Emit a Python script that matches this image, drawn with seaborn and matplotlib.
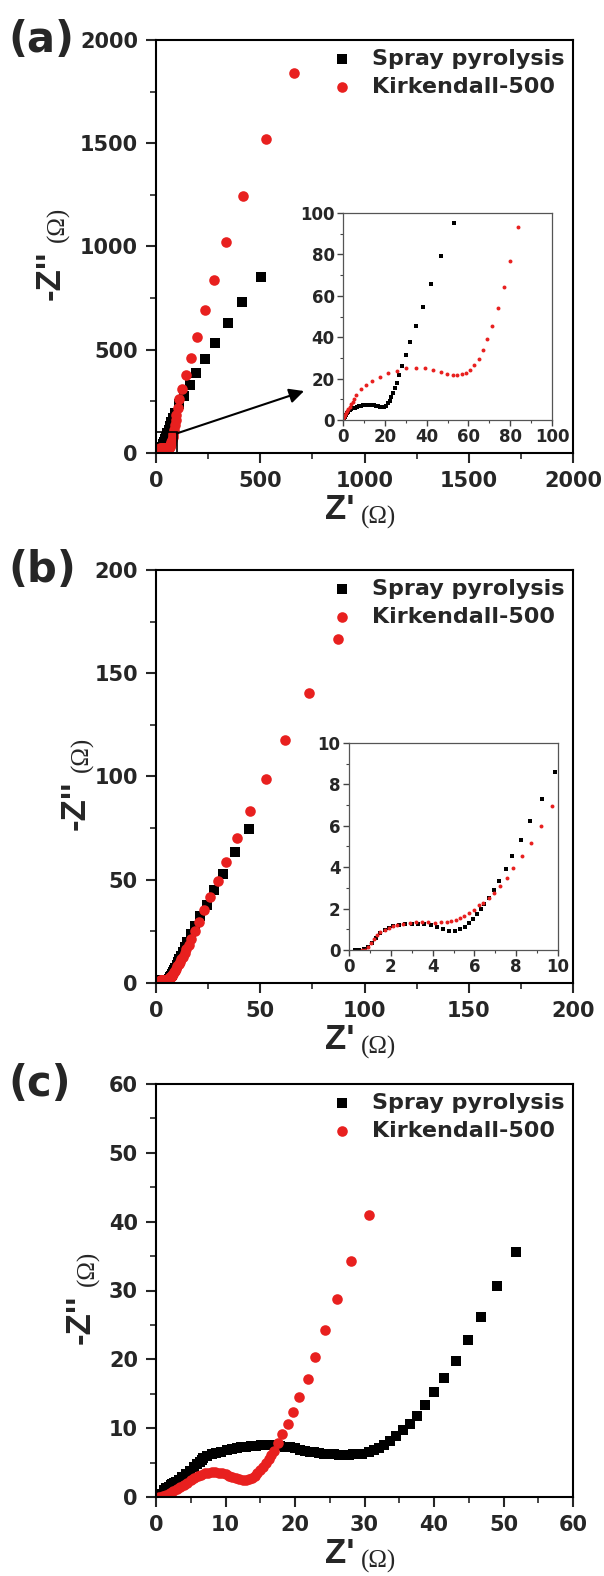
import matplotlib
matplotlib.use("Agg")
import matplotlib.pyplot as plt
from matplotlib.ticker import MultipleLocator
from matplotlib.patches import Rectangle
import seaborn as sns

# ---- data (Z' and -Z'' in ohm) ----
# (a)
spray_a_x = [0.2, 0.6, 1.0, 1.5, 2.0, 2.6, 3.3, 4.0, 4.8, 5.7, 6.6, 7.6, 8.6, 9.6, 10.6,
             11.6, 12.6, 13.6, 14.6, 15.6, 16.6, 17.6, 18.6, 19.6, 20.4, 21.5, 22.3, 23.1,
             24.1, 24.9, 25.8, 26.8, 28.1, 30.0, 32.0, 34.8, 38.1, 42.1, 47.0, 53.1, 60,
             67, 74, 82, 92, 111, 133, 161, 190, 235, 283, 343, 412, 502]
spray_a_y = [0.0, 0.8, 1.6, 2.4, 3.2, 4.0, 4.6, 5.1, 5.6, 6.0, 6.4, 6.7, 6.9, 7.1, 7.2,
             7.3, 7.3, 7.2, 7.1, 6.9, 6.7, 6.5, 6.3, 6.4, 6.9, 8.1, 9.4, 11.3,
             13.2, 15.3, 18.0, 21.9, 26.1, 31.3, 37.6, 45.2, 54.5, 65.8, 79.0, 95.0, 112,
             130, 148, 170, 196, 237, 277, 328, 386, 454, 531, 628, 733, 852]
kirk_a_x = [0.2, 0.6, 1.0, 1.5, 2.0, 2.6, 3.2, 3.9, 4.6, 5.4, 6.4, 8.8, 11.2, 13.9, 17.5,
            21.5, 25.8, 30.3, 34.8, 39.0, 43.0, 47.0, 49.9, 52.5, 54.7, 57.0, 58.9, 60.8,
            62.8, 64.9, 67.0, 69.0, 71.3, 74.2, 77.0, 80.0, 83.9, 87, 90, 94, 98, 104,
            111, 126, 146, 168, 196, 233, 279, 338, 417, 528, 661]
kirk_a_y = [0.5, 1.4, 2.3, 3.3, 4.2, 5.3, 6.3, 7.5, 8.7, 10.0, 12.3, 14.8, 16.9, 18.9, 21.0,
            22.6, 23.9, 25.0, 25.3, 25.0, 24.2, 23.4, 22.4, 21.9, 21.9, 22.0, 22.7, 24.2,
            26.8, 29.7, 33.9, 39.0, 45.6, 54.0, 64.2, 77.0, 93.0, 112, 135, 160, 185, 220,
            261, 312, 377, 461, 560, 691, 839, 1021, 1246, 1523, 1839]

# (b)
spray_b_x = [0.3, 0.5, 0.7, 0.9, 1.1, 1.3, 1.5, 1.7, 1.9, 2.1, 2.4, 2.7, 3.0, 3.3, 3.6,
             3.9, 4.2, 4.5, 4.8, 5.07, 5.31, 5.55, 5.76, 5.95, 6.11, 6.3, 6.48, 6.7, 6.93,
             7.2, 7.52, 7.82, 8.24, 8.67, 9.22, 9.84, 10.5, 11.2, 12.0, 12.9, 13.9, 15.1,
             16.6, 18.7, 21.3, 24.5, 28.0, 32.3, 37.8, 44.7]
spray_b_y = [0.0, 0.01, 0.05, 0.15, 0.35, 0.6, 0.8, 0.95, 1.06, 1.15, 1.22, 1.27, 1.28, 1.28, 1.26,
             1.2, 1.1, 1.0, 0.93, 0.92, 1.0, 1.13, 1.32, 1.5, 1.73, 1.97, 2.23, 2.53, 2.9,
             3.35, 3.9, 4.55, 5.32, 6.21, 7.29, 8.58, 10.0, 11.5, 13.2, 15.1, 17.3, 20.0,
             23.5, 27.5, 32.3, 37.9, 45.0, 53.0, 63.5, 74.6]
kirk_b_x = [0.6, 0.75, 0.9, 1.05, 1.2, 1.35, 1.5, 1.7, 1.9, 2.1, 2.3, 2.6, 2.9, 3.2, 3.5,
            3.8, 4.1, 4.4, 4.67, 4.88, 5.1, 5.31, 5.52, 5.74, 5.97, 6.2, 6.43, 6.7, 6.94,
            7.23, 7.55, 7.87, 8.27, 8.69, 9.17, 9.7, 10.3, 10.9, 11.5, 12.2, 12.9, 13.7,
            14.6, 15.6, 16.9, 18.6, 20.6, 23.0, 25.8, 29.5, 33.8, 39.0, 45.3, 52.7, 62.0,
            73.5, 87.4]
kirk_b_y = [0.0, 0.02, 0.15, 0.35, 0.55, 0.72, 0.85, 0.98, 1.08, 1.16, 1.22, 1.28, 1.31, 1.33, 1.33,
            1.33, 1.32, 1.33, 1.34, 1.39, 1.45, 1.56, 1.66, 1.79, 1.94, 2.15, 2.29, 2.5, 2.76,
            3.08, 3.48, 3.98, 4.53, 5.19, 6.0, 6.95, 8.0, 9.0, 10.1, 11.4, 12.8, 14.4,
            16.3, 18.4, 21.2, 25.0, 29.6, 35.2, 41.5, 49.2, 58.5, 70.0, 83.3, 98.9, 117.6,
            140.2, 166.6]

# (c)
spray_c_x = [0.0, 0.5, 1.1, 1.5, 1.8, 2.1, 2.3, 2.6, 2.9, 3.3, 3.8, 4.3, 4.9, 5.4, 5.9,
             6.3, 6.6, 6.8, 7.4, 8.0, 8.6, 9.3, 10.2, 10.9, 11.6, 12.3, 13.0, 13.7, 14.4,
             15.1, 15.8, 16.5, 17.2, 17.9, 18.6, 19.3, 20.0, 20.7, 21.4, 22.1, 22.8, 23.5,
             24.2, 24.9, 25.6, 26.3, 27.0, 27.7, 28.4, 29.0, 29.7, 30.6, 31.4, 32.1, 32.8,
             33.6, 34.5, 35.5, 36.5, 37.5, 38.7, 40.0, 41.5, 43.1, 44.9, 46.8, 49.0, 51.8]
spray_c_y = [0.0, 0.5, 1.0, 1.3, 1.5, 1.7, 1.85, 2.0, 2.2, 2.5, 2.9, 3.3, 3.8, 4.3, 4.8,
             5.1, 5.4, 5.6, 5.9, 6.2, 6.4, 6.6, 6.8, 6.95, 7.05, 7.2, 7.3, 7.4, 7.45,
             7.5, 7.5, 7.5, 7.45, 7.4, 7.3, 7.2, 7.05, 6.9, 6.75, 6.6, 6.5, 6.4,
             6.3, 6.25, 6.2, 6.15, 6.15, 6.15, 6.2, 6.25, 6.3, 6.5, 6.8, 7.1, 7.5,
             8.1, 8.8, 9.7, 10.6, 11.8, 13.4, 15.3, 17.3, 19.8, 22.8, 26.2, 30.6, 35.6]
kirk_c_x = [0.5, 1.0, 1.5, 2.0, 2.5, 3.0, 3.5, 4.0, 4.5, 5.0, 5.5, 6.0, 6.5, 7.0, 7.5,
            8.0, 8.5, 9.0, 9.5, 10.0, 10.5, 11.0, 11.5, 12.0, 12.5, 13.0, 13.4, 13.8, 14.2,
            14.6, 15.0, 15.4, 15.8, 16.2, 16.6, 17.0, 17.6, 18.2, 19.0, 19.7, 20.6, 21.8,
            22.9, 24.3, 26.0, 28.1, 30.6]
kirk_c_y = [0.0, 0.15, 0.35, 0.6, 0.9, 1.2, 1.5, 1.8, 2.1, 2.4, 2.7, 3.0, 3.25, 3.45, 3.55,
            3.6, 3.6, 3.55, 3.45, 3.3, 3.1, 2.9, 2.7, 2.55, 2.45, 2.45, 2.55, 2.75, 3.05,
            3.45, 3.9, 4.4, 4.95, 5.5, 6.05, 6.7, 7.9, 9.1, 10.6, 12.4, 14.6, 17.2,
            20.3, 24.2, 28.8, 34.3, 41.0]

panel_letters = ["(a)", "(b)", "(c)"]
series_names = ["Spray pyrolysis", "Kirkendall-500"]

sns.set_style("ticks")
plt.rcParams["font.family"] = ["DejaVu Sans"]
plt.rcParams["font.weight"] = "bold"
plt.rcParams["axes.linewidth"] = 1.5

W, H = 604, 1576
fig = plt.figure(figsize=(W / 100, H / 100), dpi=100)


def box(left, top, right, bottom):
    # pixel box -> figure fraction
    return [left / W, 1 - bottom / H, (right - left) / W, (bottom - top) / H]


def style_axes(ax, lim, major, minor, inset=False):
    ax.set_xlim(0, lim)
    ax.set_ylim(0, lim)
    ax.xaxis.set_major_locator(MultipleLocator(major))
    ax.yaxis.set_major_locator(MultipleLocator(major))
    ax.xaxis.set_minor_locator(MultipleLocator(minor))
    ax.yaxis.set_minor_locator(MultipleLocator(minor))
    if inset:
        ax.tick_params(which="major", direction="out", length=4, width=1, labelsize=12,
                       pad=2, color="#444444")
        ax.tick_params(which="minor", direction="out", length=2, width=0.8, color="#444444")
        lw, col = 0.9, "#555555"
    else:
        ax.tick_params(which="major", direction="out", length=7, width=1.5, labelsize=15,
                       pad=6)
        ax.tick_params(which="minor", direction="out", length=4, width=1.2)
        lw, col = 1.5, "black"
    for s in ax.spines.values():
        s.set_linewidth(lw)
        s.set_color(col)
    ax.set_xlabel("")
    ax.set_ylabel("")


def labels(ax, ylab_x):
    ax.text(0.477, -0.138, "Z'", transform=ax.transAxes, ha="right", va="center",
            fontsize=25, fontweight="bold", family="Liberation Sans")
    ax.text(0.492, -0.155, "(Ω)", transform=ax.transAxes, ha="left", va="center",
            fontsize=18, family="Liberation Serif", fontweight="normal")
    ax.text(ylab_x, 0.49, "-Z''", transform=ax.transAxes, rotation=90, ha="center",
            va="top", fontsize=25, fontweight="bold", family="Liberation Sans")
    ax.text(ylab_x + 0.019, 0.512, "(Ω)", transform=ax.transAxes, rotation=90, ha="center",
            va="bottom", fontsize=18, family="Liberation Serif", fontweight="normal")


def draw(ax, sx, sy, kx, ky, s_sq, s_ci, legend):
    sns.scatterplot(x=sx, y=sy, marker="s", color="black", s=s_sq, linewidth=0, ax=ax,
                    label=series_names[0] if legend else None, legend=False)
    sns.scatterplot(x=kx, y=ky, marker="o", color="#e8201f", s=s_ci, linewidth=0, ax=ax,
                    label=series_names[1] if legend else None, legend=False)
    if legend:
        ax.legend(loc="upper right", bbox_to_anchor=(1.0, 1.0), frameon=False, fontsize=16,
                  borderaxespad=0.0, borderpad=0.4, handlelength=1.0, handletextpad=0.85,
                  labelspacing=0.35)


tops = [40, 570, 1084]
data = [(spray_a_x, spray_a_y, kirk_a_x, kirk_a_y, 2000, 500, 250),
        (spray_b_x, spray_b_y, kirk_b_x, kirk_b_y, 200, 50, 25),
        (spray_c_x, spray_c_y, kirk_c_x, kirk_c_y, 60, 10, 5)]
ylab_pos = [-0.254, -0.195, -0.182]

for i, (sx, sy, kx, ky, lim, major, minor) in enumerate(data):
    top = tops[i]
    ax = fig.add_axes(box(156, top, 573, top + 413))
    draw(ax, sx, sy, kx, ky, 42, 58, True)
    style_axes(ax, lim, major, minor)
    labels(ax, ylab_pos[i])
    fig.text(8 / W, 1 - top / H, panel_letters[i], ha="left", va="center",
             fontsize=30, fontweight="bold")

    if i == 0:
        ax.add_patch(Rectangle((0, 0), 100, 100, fill=False, ec="black", lw=1.2, zorder=5))
        ax.annotate("", xy=(710, 300), xytext=(100, 95),
                    arrowprops=dict(arrowstyle="-|>", color="black", lw=1.5,
                                    mutation_scale=22, shrinkA=0, shrinkB=0))
        ins = fig.add_axes(box(343, 213, 552, 420))
        draw(ins, sx, sy, kx, ky, 9, 8, False)
        style_axes(ins, 100, 20, 10, inset=True)
    elif i == 1:
        ins = fig.add_axes(box(349, 743, 558, 950))
        draw(ins, sx, sy, kx, ky, 9, 8, False)
        style_axes(ins, 10, 2, 1, inset=True)

fig.savefig("out.png", dpi=100)
